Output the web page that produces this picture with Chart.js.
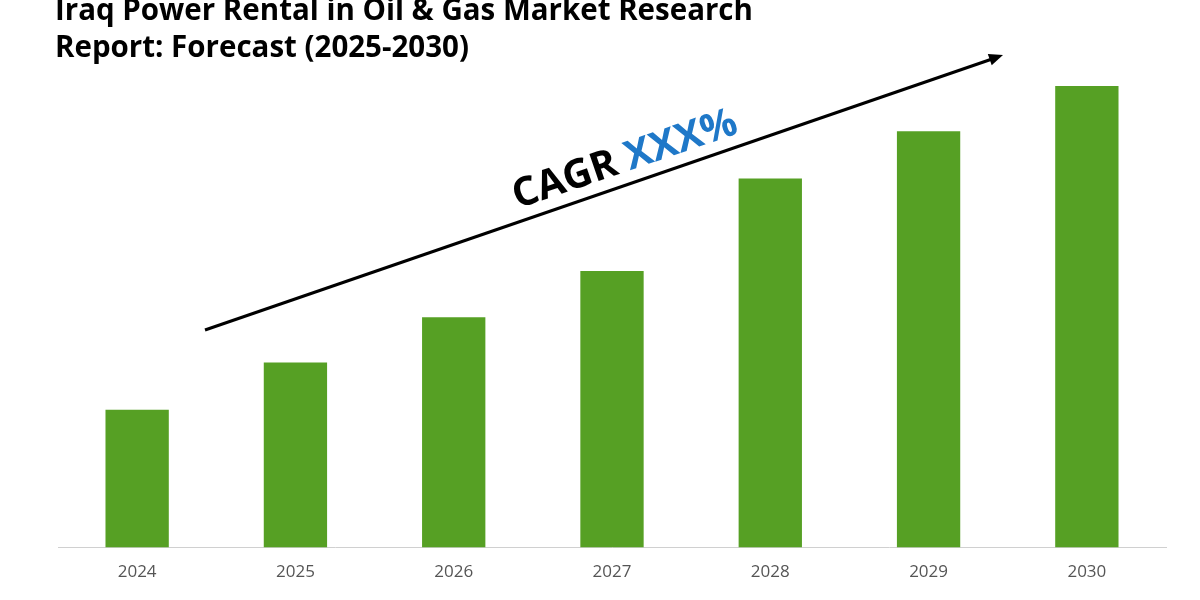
<!DOCTYPE html><html><head><style>html,body{margin:0;background:#fff}#w{width:1200px;height:600px}</style>
<script src="https://cdn.jsdelivr.net/npm/chart.js@4"></script></head><body><div id="w"><canvas id="c"></canvas></div><script>
const categories=['2024','2025','2026','2027','2028','2029','2030'];
const values=[137,184,229,275,367,414,459];
const titleLines=['Iraq Power Rental in Oil & Gas Market Research','Report: Forecast (2025-2030)'];
const deco={id:'deco',afterDraw(ch){const c=ch.ctx;c.save();
c.fillStyle='#000';c.font='bold 29.5px "Open Sans"';c.textBaseline='middle';
c.fillText(titleLines[0],55,12);c.fillText(titleLines[1],55,49);
c.strokeStyle='#000';c.lineWidth=3;c.beginPath();c.moveTo(205,330);c.lineTo(995,58);c.stroke();
const a=Math.atan2(58-330,995-205);c.translate(1003,55);c.rotate(a);c.beginPath();c.moveTo(0,0);c.lineTo(-14,-6);c.lineTo(-14,6);c.closePath();c.fill();c.restore();
c.save();c.translate(625,160);c.rotate(-0.33);c.font='bold 40px "Open Sans"';c.textBaseline='middle';
const t1='CAGR ',t2='XXX%';const w1=c.measureText(t1).width,w2=c.measureText(t2).width;let x=-(w1+w2)/2;
c.fillStyle='#000';c.fillText(t1,x,0);c.fillStyle='#1f78c8';c.fillText(t2,x+w1,0);c.restore();}};
new Chart(document.getElementById('c'),{type:'bar',data:{labels:categories,datasets:[{data:values,backgroundColor:'#56a024',categoryPercentage:1,barPercentage:0.4}]},
options:{responsive:true,maintainAspectRatio:false,animation:false,layout:{padding:{left:58,right:34,top:80,bottom:12}},
plugins:{legend:{display:false},tooltip:{enabled:false}},
scales:{x:{grid:{display:false},border:{color:'#d0d0d0',width:1},ticks:{color:'#555',font:{size:17,family:'"Open Sans"'},padding:6}},
y:{display:false,min:0,max:465}}},plugins:[deco]});
</script></body></html>
